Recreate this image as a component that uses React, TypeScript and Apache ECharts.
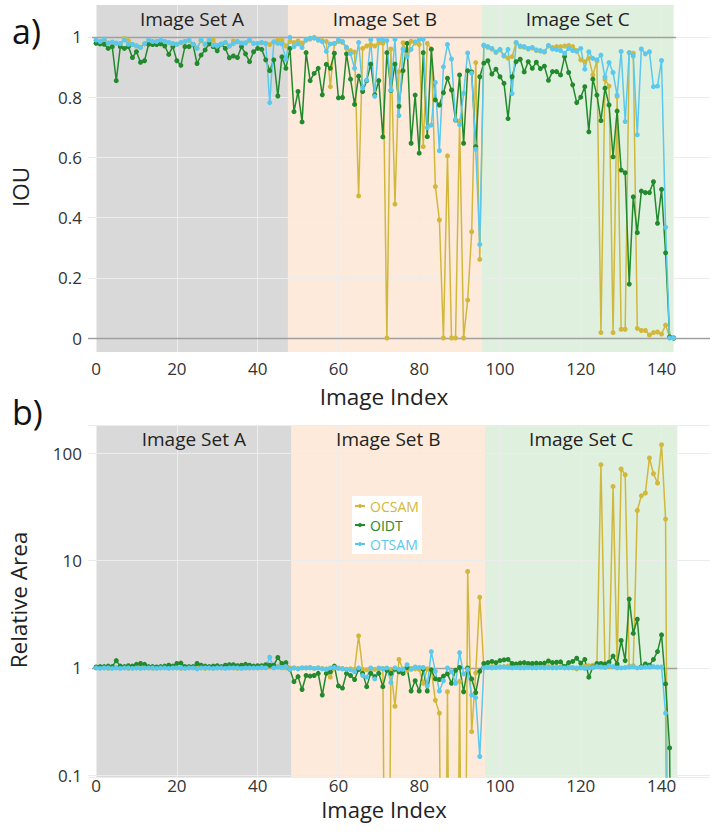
import React, { useEffect, useRef } from "react";
import * as echarts from "echarts";

// ---- data -----------------------------------------------------------------
const seriesNames = ["OCSAM", "OIDT", "OTSAM"];
const imageSets = ["Image Set A", "Image Set B", "Image Set C"];
const xTicks = [0, 20, 40, 60, 80, 100, 120, 140];
const iouTicks = [0, 0.2, 0.4, 0.6, 0.8, 1];

// index boundaries of the three image sets (per panel)
const iouSetBounds = [0, 47.5, 95.5, 143];
const areaSetBounds = [0, 48.4, 96.3, 143.9];

// IOU per image index (0..143)
const iouOCSAM = [
  0.988, 0.984, 0.99, 0.979, 0.982, 0.979, 0.978, 0.995, 0.988, 0.975,
  0.97, 0.966, 0.977, 0.988, 0.984, 0.984, 0.988, 0.984, 0.981, 0.978,
  0.976, 0.981, 0.984, 0.988, 0.976, 0.963, 0.988, 0.976, 0.988, 0.99,
  0.972, 0.976, 0.981, 0.97, 0.987, 0.984, 0.979, 0.98, 0.988, 0.979,
  0.978, 0.981, 0.978, 0.975, 0.983, 0.99, 0.99, 0.97,
  0.985, 0.982, 0.987, 0.98, 0.99, 0.993, 0.999, 0.99, 0.988, 0.985,
  0.835, 0.977, 0.985, 0.982, 0.962, 0.955, 0.95, 0.472, 0.962, 0.97,
  0.975, 0.97, 0.98, 0.979, 0, 0.96, 0.445, 0.885, 0.981, 0.94,
  0.986, 0.98, 0.975, 0.636, 0.979, 0.96, 0.503, 0.392, 0, 0.605,
  0, 0, 0.72, 0, 0.126, 0.353, 0.915, 0.261,
  0.971, 0.966, 0.96, 0.949, 0.957, 0.937, 0.93, 0.935, 0.98, 0.968,
  0.966, 0.96, 0.963, 0.955, 0.953, 0.95, 0.97, 0.965, 0.968, 0.968,
  0.97, 0.972, 0.968, 0.955, 0.924, 0.918, 0.93, 0.874, 0.92, 0.018,
  0.859, 0.837, 0.018, 0.802, 0.029, 0.029, 0.948, 0.946, 0.032, 0.025,
  0.025, 0.01, 0.018, 0.02, 0.013, 0.043, 0.004, 0,
];
const iouOIDT = [
  0.979, 0.977, 0.976, 0.962, 0.968, 0.855, 0.968, 0.962, 0.968, 0.932,
  0.951, 0.916, 0.921, 0.976, 0.975, 0.975, 0.977, 0.97, 0.942, 0.968,
  0.921, 0.906, 0.968, 0.968, 0.975, 0.912, 0.94, 0.957, 0.977, 0.968,
  0.954, 0.976, 0.962, 0.931, 0.937, 0.932, 0.968, 0.944, 0.918, 0.951,
  0.962, 0.959, 0.924, 0.888, 0.924, 0.804, 0.934, 0.896,
  0.962, 0.752, 0.819, 0.718, 0.948, 0.855, 0.879, 0.896, 0.808, 0.909,
  0.896, 0.946, 0.798, 0.799, 0.944, 0.86, 0.776, 0.87, 0.819, 0.855,
  0.91, 0.808, 0.855, 0.668, 0.948, 0.822, 0.91, 0.77, 0.888, 0.979,
  0.647, 0.807, 0.614, 0.948, 0.669, 0.959, 0.791, 0.774, 0.815, 0.863,
  0.824, 0.724, 0.874, 0.647, 0.888, 0.884, 0.636, 0.868,
  0.913, 0.921, 0.877, 0.893, 0.868, 0.846, 0.729, 0.868, 0.918, 0.926,
  0.884, 0.918, 0.896, 0.916, 0.895, 0.903, 0.856, 0.885, 0.885, 0.874,
  0.935, 0.882, 0.841, 0.782, 0.8, 0.835, 0.685, 0.86, 0.807, 0.722,
  0.83, 0.774, 0.602, 0.754, 0.558, 0.549, 0.179, 0.469, 0.35, 0.488,
  0.483, 0.483, 0.519, 0.381, 0.494, 0.283, 0.004, 0,
];
const iouOTSAM = [
  0.99, 0.985, 0.993, 0.98, 0.983, 0.98, 0.978, 0.99, 0.976, 0.976,
  0.971, 0.965, 0.978, 0.99, 0.985, 0.985, 0.99, 0.985, 0.982, 0.978,
  0.976, 0.982, 0.985, 0.99, 0.976, 0.962, 0.99, 0.976, 0.99, 0.973,
  0.971, 0.976, 0.982, 0.97, 0.978, 0.985, 0.98, 0.981, 0.99, 0.979,
  0.979, 0.982, 0.979, 0.782, 0.984, 0.979, 0.977, 0.926,
  0.999, 0.968, 0.977, 0.965, 0.99, 0.996, 0.996, 0.99, 0.985, 0.952,
  0.977, 0.979, 0.99, 0.985, 0.966, 0.945, 0.896, 0.982, 0.83, 0.857,
  0.991, 0.803, 0.992, 0.99, 0.988, 0.824, 0.992, 0.739, 0.96, 0.935,
  0.959, 0.984, 0.991, 0.992, 0.699, 0.707, 0.849, 0.622, 0.901, 0.975,
  0.927, 0.726, 0.709, 0.813, 0.947, 0.88, 0.627, 0.311,
  0.973, 0.968, 0.962, 0.95, 0.959, 0.938, 0.959, 0.812, 0.982, 0.97,
  0.968, 0.962, 0.965, 0.957, 0.955, 0.951, 0.972, 0.96, 0.958, 0.955,
  0.946, 0.962, 0.955, 0.952, 0.962, 0.893, 0.951, 0.929, 0.924, 0.94,
  0.867, 0.915, 0.882, 0.807, 0.952, 0.719, 0.948, 0.937, 0.675, 0.96,
  0.944, 0.951, 0.835, 0.837, 0.922, 0.368, 0, 0,
];

// relative area per image index (0.00001 stands for an empty mask on the log axis)
const areaOCSAM = [
  1.0, 1.01, 1.0, 0.99, 1.0, 1.01, 1.0, 1.0, 0.99, 1.0,
  1.0, 1.01, 1.0, 1.0, 0.99, 1.0, 1.0, 1.01, 1.0, 1.0,
  1.0, 0.99, 1.0, 1.0, 1.01, 1.0, 1.0, 0.99, 1.0, 1.0,
  1.0, 1.0, 1.01, 1.0, 1.0, 0.99, 1.0, 1.0, 1.0, 1.01,
  1.0, 1.0, 1.01, 1.04, 1.02, 1.03, 1.0, 1.0,
  1.0, 1.0, 0.99, 1.0, 1.0, 1.01, 0.99, 1.0, 0.99, 0.98,
  0.82, 1.0, 1.0, 0.99, 0.97, 0.98, 0.97, 1.99, 0.97, 0.96,
  0.99, 0.97, 0.98, 0.99, 0.00001, 0.97, 0.44, 1.2, 0.97, 0.95,
  0.99, 0.98, 0.97, 0.72, 0.98, 0.96, 0.5, 0.38, 0.00001, 0.6,
  0.00001, 0.00001, 0.75, 0.00001, 7.9, 0.255, 0.9, 4.55,
  1.02, 1.02, 1.03, 1.02, 1.02, 1.03, 1.04, 1.02, 1.02, 1.02,
  1.02, 1.02, 1.03, 1.02, 1.02, 1.02, 1.03, 1.02, 1.03, 1.02,
  1.02, 1.02, 1.0, 0.98, 1.02, 1.04, 1.05, 1.06, 1.05, 77.9,
  1.05, 1.03, 48.9, 1.06, 71, 62.8, 1.04, 1.05, 29.2, 40,
  42.5, 90, 64.2, 52.6, 119.6, 24.3, 0.00001, 0.00001,
];
const areaOIDT = [
  1.02, 1.03, 1.03, 1.04, 1.03, 1.17, 1.04, 1.03, 1.05, 1.04,
  1.08, 1.1, 1.08, 1.03, 1.03, 1.02, 1.03, 1.04, 1.06, 1.04,
  1.1, 1.11, 1.03, 1.03, 1.03, 1.1, 1.06, 1.04, 1.03, 1.04,
  1.05, 1.03, 1.06, 1.07, 1.07, 1.05, 1.06, 1.08, 1.06, 1.04,
  1.05, 1.05, 1.07, 1.06, 1.06, 1.25, 1.1, 1.12,
  0.97, 0.745, 0.83, 0.63, 0.85, 0.84, 0.85, 0.89, 0.56, 0.89,
  0.92, 1.04, 0.68, 0.65, 0.89, 0.85, 0.78, 0.97, 0.89, 0.67,
  0.89, 0.83, 0.89, 0.67, 0.95, 0.89, 0.97, 0.92, 0.89, 1.01,
  0.61, 0.76, 0.61, 0.97, 0.61, 0.96, 0.79, 0.78, 0.84, 0.88,
  0.72, 0.95, 1.01, 0.6, 1.0, 0.79, 0.59, 0.93,
  1.1, 1.12, 1.15, 1.12, 1.17, 1.19, 1.2, 1.1, 1.09, 1.11,
  1.12, 1.1, 1.1, 1.11, 1.1, 1.11, 1.16, 1.12, 1.13, 1.14,
  1.03, 1.12, 1.15, 1.23, 1.11, 1.2, 0.82, 1.02, 1.1, 1.1,
  1.09, 1.13, 1.29, 1.09, 1.8, 1.17, 4.37, 2.1, 2.84, 1.03,
  1.09, 1.06, 1.2, 1.42, 2.03, 0.71, 0.18, 0.00001,
];
const areaOTSAM = [
  1.0, 0.99, 1.0, 1.0, 0.99, 1.0, 0.99, 1.0, 1.0, 0.99,
  1.0, 0.99, 1.0, 1.0, 1.0, 0.99, 1.0, 1.0, 0.99, 1.0,
  1.0, 1.0, 0.99, 1.0, 1.0, 0.98, 1.0, 1.0, 1.0, 0.99,
  1.0, 1.0, 0.99, 1.0, 1.0, 1.0, 0.99, 1.0, 1.0, 1.0,
  1.0, 1.01, 1.0, 1.26, 1.0, 1.02, 1.01, 1.03,
  0.97, 1.0, 0.98, 1.0, 1.0, 1.0, 0.99, 1.0, 0.98, 0.97,
  1.0, 1.01, 0.99, 0.98, 0.97, 0.96, 0.92, 1.0, 0.85, 0.82,
  1.0, 0.79, 1.0, 0.98, 1.0, 0.73, 1.0, 0.97, 0.97, 1.07,
  0.97, 1.02, 1.01, 1.01, 0.68, 1.42, 0.93, 0.61, 0.76, 1.0,
  0.92, 0.72, 1.39, 0.88, 0.97, 0.56, 0.53, 0.15,
  1.0, 1.01, 1.0, 1.01, 1.02, 1.02, 1.01, 1.0, 1.01, 1.0,
  1.0, 1.01, 1.0, 1.0, 1.01, 1.0, 1.01, 1.0, 1.0, 1.01,
  1.0, 1.0, 1.01, 1.0, 1.0, 0.99, 1.0, 1.01, 1.03, 1.02,
  1.01, 1.05, 1.03, 1.0, 1.0, 1.01, 1.02, 1.03, 1.0, 1.01,
  1.02, 1.02, 1.03, 1.02, 1.02, 0.38, 0.00001, 0.00001,
];

// ---- styling ----------------------------------------------------------------
const FONT = "'Open Sans', 'Noto Sans', sans-serif";
const lineColors = ["#d1b83c", "#23892d", "#5bc8ee"];
const setFills = ["#d9d9d9", "#fdeadb", "#dff0de"];
const X_MIN = -2;
const X_MAX = 152;

const withIndex = (values: number[]) => values.map((v, i) => [i, v]);

// coloured bands behind everything (below the grid lines, which sit at z 2)
function shadeSeries(panel: number, bounds: number[]) {
  return {
    type: "line",
    xAxisIndex: panel,
    yAxisIndex: panel,
    data: [],
    z: 1,
    silent: true,
    markArea: {
      silent: true,
      z: 1,
      label: { show: false },
      data: imageSets.map((name, k) => [
        { name, xAxis: bounds[k], itemStyle: { color: setFills[k] } },
        { xAxis: bounds[k + 1] },
      ]),
    },
  };
}

// band titles and the grey reference lines: above the grid lines, below the data
function overlaySeries(panel: number, bounds: number[], xEnd: number, withZero: boolean) {
  const lines: any[] = [[{ coord: [X_MIN + 1, 1] }, { coord: [xEnd, 1] }]];
  if (withZero) lines.push({ yAxis: 0 });
  return {
    type: "line",
    xAxisIndex: panel,
    yAxisIndex: panel,
    data: [],
    z: 2.5,
    silent: true,
    markArea: {
      silent: true,
      z: 2.5,
      itemStyle: { color: "rgba(0,0,0,0)" },
      label: {
        show: true,
        position: "insideTop",
        distance: 4,
        fontSize: 19,
        fontFamily: FONT,
        color: "#222",
      },
      data: imageSets.map((name, k) => [
        { name, xAxis: bounds[k] },
        { xAxis: bounds[k + 1] },
      ]),
    },
    markLine: {
      silent: true,
      z: 2.5,
      symbol: "none",
      label: { show: false },
      lineStyle: { color: "#a0a0a0", width: 1.4, type: "solid" },
      data: lines,
    },
  };
}

function dataSeries(panel: number, k: number, values: number[]) {
  return {
    name: seriesNames[k],
    type: "line",
    xAxisIndex: panel,
    yAxisIndex: panel,
    data: withIndex(values),
    z: 3,
    clip: true,
    symbol: "circle",
    symbolSize: 5,
    showSymbol: true,
    showAllSymbol: true,
    lineStyle: { color: lineColors[k], width: 1.5 },
    itemStyle: { color: lineColors[k] },
    emphasis: { disabled: true },
  };
}

const gridLine = { show: true, lineStyle: { color: "#ececec", width: 1 } };
const tickFont = { fontSize: 17, lineHeight: 14, fontFamily: FONT, color: "#333" };

function xAxis(panel: number, margin: number) {
  return {
    type: "value",
    gridIndex: panel,
    min: X_MIN,
    max: X_MAX,
    z: 2,
    axisLine: { show: false },
    axisTick: { show: false, customValues: xTicks },
    axisLabel: { ...tickFont, margin, customValues: xTicks },
    splitLine: gridLine,
  };
}

const titleStyle = {
  fontSize: 22,
  lineHeight: 18,
  fontFamily: FONT,
  fill: "#222",
  align: "center",
  verticalAlign: "middle",
};

export default function App() {
  const ref = useRef<HTMLDivElement>(null);

  useEffect(() => {
    if (!ref.current) return;
    const chart = echarts.init(ref.current, null, { renderer: "svg" });

    const option = {
      animation: false,
      backgroundColor: "#fff",
      grid: [
        { left: 88, right: 6, top: 5, height: 347 },
        { left: 88, right: 6, top: 425, height: 352 },
      ],
      xAxis: [xAxis(0, 9.5), xAxis(1, 1)],
      yAxis: [
        {
          type: "value",
          gridIndex: 0,
          min: -0.0465,
          max: 1.1063,
          z: 2,
          axisLine: { show: false },
          axisTick: { show: false, customValues: iouTicks },
          axisLabel: { ...tickFont, margin: 6, customValues: iouTicks },
          splitLine: gridLine,
        },
        {
          type: "log",
          logBase: 10,
          gridIndex: 1,
          min: 0.0966,
          max: 182.4,
          z: 2,
          axisLine: { show: false },
          axisTick: { show: false },
          axisLabel: { ...tickFont, margin: 6, showMinLabel: false, showMaxLabel: false },
          splitLine: gridLine,
        },
      ],
      legend: {
        orient: "vertical",
        left: 352,
        top: 496,
        backgroundColor: "#fff",
        padding: [3, 3, 3, 2],
        itemGap: 5,
        itemWidth: 10,
        itemHeight: 5,
        selectedMode: false,
        textStyle: { fontSize: 14, fontFamily: FONT },
        data: seriesNames.map((name, k) => ({
          name,
          textStyle: { color: lineColors[k] },
        })),
      },
      graphic: [
        { type: "text", left: 12, top: 14, style: { text: "a)", fontSize: 34, fontFamily: FONT, fill: "#111" } },
        { type: "text", left: 12, top: 395, style: { text: "b)", fontSize: 34, fontFamily: FONT, fill: "#111" } },
        { type: "text", x: 20, y: 187, rotation: Math.PI / 2, style: { ...titleStyle, fontSize: 22.5, text: "IOU" } },
        { type: "text", x: 18, y: 600, rotation: Math.PI / 2, style: { ...titleStyle, fontSize: 22.5, text: "Relative Area" } },
        { type: "text", x: 384, y: 396, style: { ...titleStyle, fontSize: 22.5, text: "Image Index" } },
        { type: "text", x: 384, y: 809, style: { ...titleStyle, text: "Image Index" } },
      ],
      series: [
        shadeSeries(0, iouSetBounds),
        shadeSeries(1, areaSetBounds),
        overlaySeries(0, iouSetBounds, 143.6, true),
        overlaySeries(1, areaSetBounds, 143.9, false),
        dataSeries(0, 0, iouOCSAM),
        dataSeries(0, 1, iouOIDT),
        dataSeries(0, 2, iouOTSAM),
        dataSeries(1, 0, areaOCSAM),
        dataSeries(1, 1, areaOIDT),
        dataSeries(1, 2, areaOTSAM),
      ],
    };

    chart.setOption(option as any);
    return () => chart.dispose();
  }, []);

  return (
    <div
      ref={ref}
      style={{ position: "absolute", left: 0, top: 0, width: 716, height: 835 }}
    />
  );
}
